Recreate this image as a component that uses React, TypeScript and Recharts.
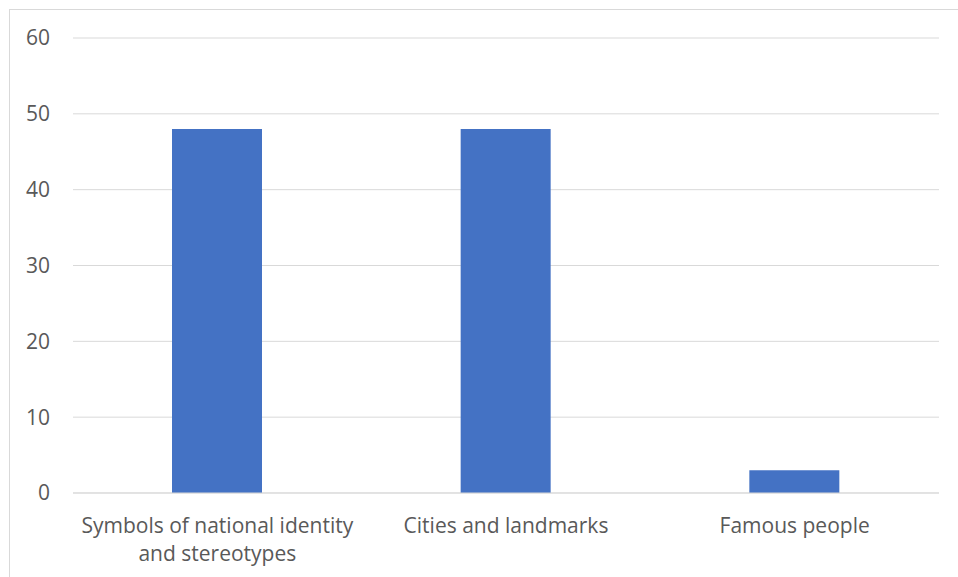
import React from "react";
import { BarChart, Bar, XAxis, YAxis, CartesianGrid } from "recharts";

const categories = [
  "Symbols of national identity and stereotypes",
  "Cities and landmarks",
  "Famous people",
];
const counts = [48, 48, 3];
const yTicks = [0, 10, 20, 30, 40, 50, 60];

const data = categories.map((name, i) => ({ name, value: counts[i] }));

const FONT = "'Open Sans', 'Segoe UI', sans-serif";
const TEXT_COLOR = "#595959";
const LABEL_SIZE = 21;
const MAX_CHARS = 28;

// Greedy word wrap for category labels
function wrapWords(text: string, maxChars: number): string[] {
  const lines: string[] = [];
  let current = "";
  for (const word of text.split(" ")) {
    const next = current ? current + " " + word : word;
    if (next.length > maxChars && current) {
      lines.push(current);
      current = word;
    } else {
      current = next;
    }
  }
  if (current) lines.push(current);
  return lines;
}

const CategoryTick = (props: any) => {
  const { x, y, payload } = props;
  const lines = wrapWords(String(payload.value), MAX_CHARS);
  return (
    <text
      x={x}
      y={y}
      textAnchor="middle"
      fill={TEXT_COLOR}
      fontSize={LABEL_SIZE}
      fontFamily={FONT}
    >
      {lines.map((line, i) => (
        <tspan key={i} x={x} dy={i === 0 ? 38 : 28}>
          {line}
        </tspan>
      ))}
    </text>
  );
};

export default function App() {
  return (
    <div
      style={{
        position: "fixed",
        left: 9,
        top: 9,
        width: 960,
        height: 580,
        border: "1px solid #d9d9d9",
        background: "#fff",
      }}
    >
      <BarChart
        width={960}
        height={580}
        data={data}
        margin={{ top: 28, right: 31, bottom: 37, left: 0 }}
      >
        <CartesianGrid vertical={false} stroke="#d9d9d9" strokeWidth={1} />
        <XAxis
          dataKey="name"
          height={60}
          interval={0}
          tickLine={false}
          tickSize={0}
          axisLine={{ stroke: "#d9d9d9" }}
          tick={<CategoryTick />}
        />
        <YAxis
          width={63}
          domain={[0, 60]}
          ticks={yTicks}
          axisLine={false}
          tickLine={false}
          tickSize={0}
          tickMargin={23}
          tick={{ fill: TEXT_COLOR, fontSize: LABEL_SIZE, fontFamily: FONT }}
        />
        <Bar dataKey="value" fill="#4472C4" barSize={90} isAnimationActive={false} />
      </BarChart>
    </div>
  );
}
